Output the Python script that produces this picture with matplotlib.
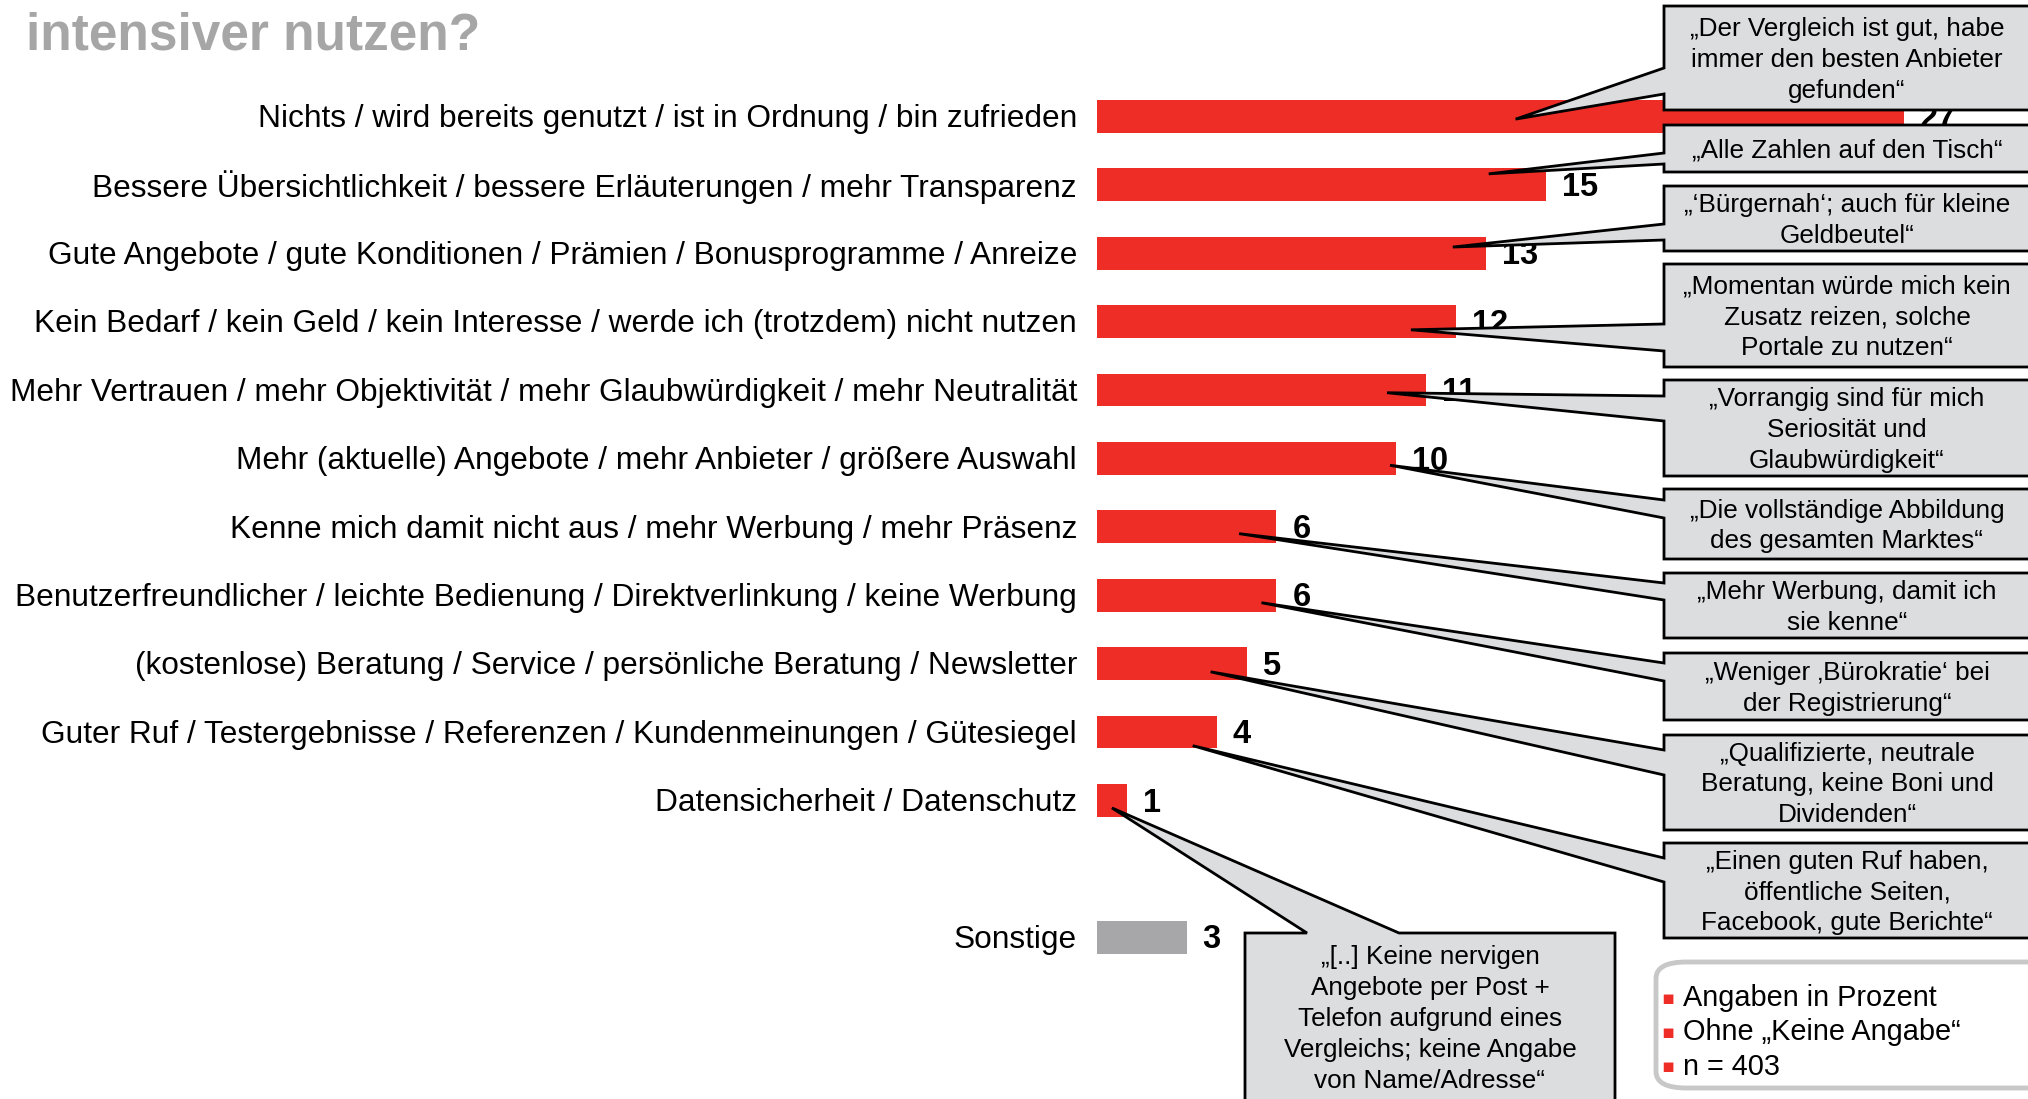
import numpy as np
import matplotlib
matplotlib.use('Agg')
import matplotlib.pyplot as plt
from matplotlib.patches import Polygon, FancyBboxPatch

plt.rcParams['font.family'] = ['Liberation Sans', 'DejaVu Sans']

# data (Angaben in Prozent, n = 403)
categories = [
    'Nichts / wird bereits genutzt / ist in Ordnung / bin zufrieden',
    'Bessere Übersichtlichkeit / bessere Erläuterungen / mehr Transparenz',
    'Gute Angebote / gute Konditionen / Prämien / Bonusprogramme / Anreize',
    'Kein Bedarf / kein Geld / kein Interesse / werde ich (trotzdem) nicht nutzen',
    'Mehr Vertrauen / mehr Objektivität / mehr Glaubwürdigkeit / mehr Neutralität',
    'Mehr (aktuelle) Angebote / mehr Anbieter / größere Auswahl',
    'Kenne mich damit nicht aus / mehr Werbung / mehr Präsenz',
    'Benutzerfreundlicher / leichte Bedienung / Direktverlinkung / keine Werbung',
    '(kostenlose) Beratung / Service / persönliche Beratung / Newsletter',
    'Guter Ruf / Testergebnisse / Referenzen / Kundenmeinungen / Gütesiegel',
    'Datensicherheit / Datenschutz',
]
values = [27, 15, 13, 12, 11, 10, 6, 6, 5, 4, 1]
other_label = 'Sonstige'
other_value = 3

quotes = [
    '„Der Vergleich ist gut, habe\nimmer den besten Anbieter\ngefunden“',
    '„Alle Zahlen auf den Tisch“',
    '„‘Bürgernah‘; auch für kleine\nGeldbeutel“',
    '„Momentan würde mich kein\nZusatz reizen, solche\nPortale zu nutzen“',
    '„Vorrangig sind für mich\nSeriosität und\nGlaubwürdigkeit“',
    '„Die vollständige Abbildung\ndes gesamten Marktes“',
    '„Mehr Werbung, damit ich\nsie kenne“',
    '„Weniger ‚Bürokratie‘ bei\nder Registrierung“',
    '„Qualifizierte, neutrale\nBeratung, keine Boni und\nDividenden“',
    '„Einen guten Ruf haben,\nöffentliche Seiten,\nFacebook, gute Berichte“',
    '„[..] Keine nervigen\nAngebote per Post +\nTelefon aufgrund eines\nVergleichs; keine Angabe\nvon Name/Adresse“',
]
notes = ['Angaben in Prozent', 'Ohne „Keine Angabe“', 'n = 403']

RED = '#ee2d27'
GREY_BAR = '#a7a7aa'
BOX = '#dcdddf'
W, H = 2028, 1099

fig = plt.figure(figsize=(W / 100, H / 100), dpi=100)
ax = fig.add_axes([0, 0, 1, 1])
ax.axis('off')
# 29.9 px per percent, bars start at x=1097 px; rows every 68.4 px starting at 116.4 px
ppu = 29.9
ax.set_xlim(-1097 / ppu, (W - 1097) / ppu)
ax.set_ylim((H - 116.4) / 68.4, -116.4 / 68.4)

ypos = np.arange(len(values))
y_other = len(values) + 1
ax.barh(ypos, values, height=0.48, color=RED)
ax.barh([y_other], [other_value], height=0.48, color=GREY_BAR)

lab_x = -20 / ppu
val_dx = 16 / ppu
for y, c, v in zip(ypos, categories, values):
    ax.text(lab_x, y + 0.04, c, ha='right', va='center', fontsize=22.8)
    ax.text(v + val_dx, y + 0.04, str(v), ha='left', va='center', fontsize=23.5,
            fontweight='bold')
ax.text(lab_x, y_other + 0.04, other_label, ha='right', va='center', fontsize=22.8)
ax.text(other_value + val_dx, y_other + 0.04, str(other_value), ha='left', va='center',
        fontsize=23.5, fontweight='bold')

# title (first line is cut off in the original)
fig.text(26 / W, 1 - 49 / H, 'intensiver nutzen?', ha='left', va='baseline',
         fontsize=37, fontweight='bold', color='#a6a6a6')


def tip_px(tx, ty):
    dx, dy = ax.transData.transform((tx, ty))
    return dx, H - dy


def to_fig(pts):
    return [(x / W, 1 - y / H) for x, y in pts]


# callouts: (top, bottom, wedge upper, wedge lower) in px, tip in data units
box_left, box_right = 1664, 2045
boxes = [(6, 110, 68, 94), (125, 172, 153, 164), (186, 251, 224, 240),
         (264, 367, 324, 351), (380, 476, 396, 421), (489, 559, 500, 518),
         (573, 638, 583, 600), (653, 720, 663, 681), (735, 830, 750, 775),
         (843, 938, 858, 882)]
tip_x = [14.0, 13.1, 11.9, 10.5, 9.7, 9.8, 4.75, 5.5, 3.8, 3.2]
tip_dy = [0.04, -0.16, -0.09, 0.12, 0.04, 0.1, 0.1, 0.11, 0.12, 0.2]

for i, (t, b, w1, w2) in enumerate(boxes):
    tp = tip_px(tip_x[i], ypos[i] + tip_dy[i])
    pts = [(box_left, t), (box_right, t), (box_right, b), (box_left, b),
           (box_left, w2), tp, (box_left, w1)]
    fig.patches.append(Polygon(to_fig(pts), closed=True, facecolor=BOX, edgecolor='black',
                               linewidth=2, joinstyle='miter', transform=fig.transFigure,
                               zorder=5))
    fig.text(1847 / W, 1 - ((t + b) / 2 + 2) / H, quotes[i],
             ha='center', va='center', fontsize=18.8, linespacing=1.36, zorder=6)

# bottom callout pointing up to the smallest bar
tp = tip_px(0.5, ypos[-1] + 0.11)
bl, br, bt, bb = 1245, 1615, 933, 1110
pts = [(bl, bt), (1307, bt), tp, (1399, bt), (br, bt), (br, bb), (bl, bb)]
fig.patches.append(Polygon(to_fig(pts), closed=True, facecolor=BOX, edgecolor='black',
                           linewidth=2, joinstyle='miter', transform=fig.transFigure,
                           zorder=5))
fig.text(1430 / W, 1 - 1019 / H, quotes[-1], ha='center', va='center', fontsize=18.8,
         linespacing=1.36, zorder=6)

# notes box
fig.patches.append(FancyBboxPatch((1656 / W, 1 - 1088 / H), 400 / W, 126 / H,
                                  boxstyle='round,pad=0,rounding_size=0.015',
                                  facecolor='white', edgecolor='#c8c8c8', linewidth=3.5,
                                  transform=fig.transFigure, zorder=5))
for k, n in enumerate(notes):
    yy = 1 - (998 + 34.5 * k) / H
    fig.text(1668 / W, yy, '▪', ha='center', va='center', fontsize=14, color=RED,
             family='DejaVu Sans', zorder=6)
    fig.text(1683 / W, yy, n, ha='left', va='center', fontsize=20.8, zorder=6)

fig.savefig('out.png', dpi=100)
